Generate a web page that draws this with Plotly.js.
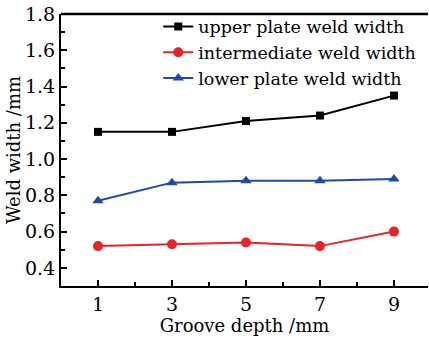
<!DOCTYPE html>
<html><head><meta charset="utf-8">
<script src="https://cdn.plot.ly/plotly-3.0.1.min.js"></script>
<style>body{margin:0;padding:0;background:#fff}#c{width:429px;height:340px}</style>
</head><body><div id="c"></div>
<script>
const depth = [1, 3, 5, 7, 9];
const upper = [1.15, 1.15, 1.21, 1.24, 1.35];
const intermediate = [0.52, 0.53, 0.54, 0.52, 0.60];
const lower = [0.77, 0.87, 0.88, 0.88, 0.89];
const names = ['upper plate weld width', 'intermediate weld width', 'lower plate weld width'];
const F = 'DejaVu Serif, serif';
const traces = [
  {x: depth, y: upper, name: names[0], mode: 'lines+markers', line: {color: '#000', width: 2}, marker: {symbol: 'square', size: 8, color: '#000'}},
  {x: depth, y: intermediate, name: names[1], mode: 'lines+markers', line: {color: '#e8232a', width: 2}, marker: {symbol: 'circle', size: 10, color: '#e8232a'}},
  {x: depth, y: lower, name: names[2], mode: 'lines+markers', line: {color: '#1f4aa8', width: 2}, marker: {symbol: 'triangle-up', size: 10, color: '#1f4aa8'}}
];
const layout = {
  width: 429, height: 340,
  margin: {l: 61, r: 1, t: 14, b: 54, autoexpand: false},
  paper_bgcolor: '#fff', plot_bgcolor: '#fff',
  font: {family: F, color: '#000'},
  showlegend: true,
  legend: {x: 0.265, y: 1.02, xanchor: 'left', yanchor: 'top', bgcolor: 'rgba(0,0,0,0)', font: {family: F, size: 17.5, color: '#000'}, tracegroupgap: 0, itemwidth: 30},
  xaxis: {
    range: [0, 9.92], tickvals: depth, ticks: 'inside', ticklen: 6, tickwidth: 2, tickcolor: '#000',
    showline: true, linewidth: 2, linecolor: '#000', showgrid: false, zeroline: false,
    minor: {tickvals: [2, 4, 6, 8], ticks: 'inside', ticklen: 4, tickwidth: 2, tickcolor: '#000'},
    tickfont: {family: F, size: 19}, title: {text: 'Groove depth /mm', font: {family: F, size: 18}, standoff: 0}
  },
  yaxis: {
    range: [0.3, 1.8], dtick: 0.2, tick0: 0.4, tickformat: '.1f', ticks: 'inside', ticklen: 6, tickwidth: 2, tickcolor: '#000',
    showline: true, linewidth: 2, linecolor: '#000', showgrid: false, zeroline: false, mirror: false,
    minor: {dtick: 0.1, ticks: 'inside', ticklen: 4, tickwidth: 2, tickcolor: '#000'},
    tickfont: {family: F, size: 19}, title: {text: 'Weld width /mm', font: {family: F, size: 18}, standoff: 0}
  },
  shapes: [{type: 'line', xref: 'paper', yref: 'paper', x0: 0, x1: 1, y0: 1, y1: 1, line: {color: '#000', width: 2.5}}]
};
Plotly.newPlot('c', traces, layout, {displayModeBar: false, staticPlot: true});
</script></body></html>
